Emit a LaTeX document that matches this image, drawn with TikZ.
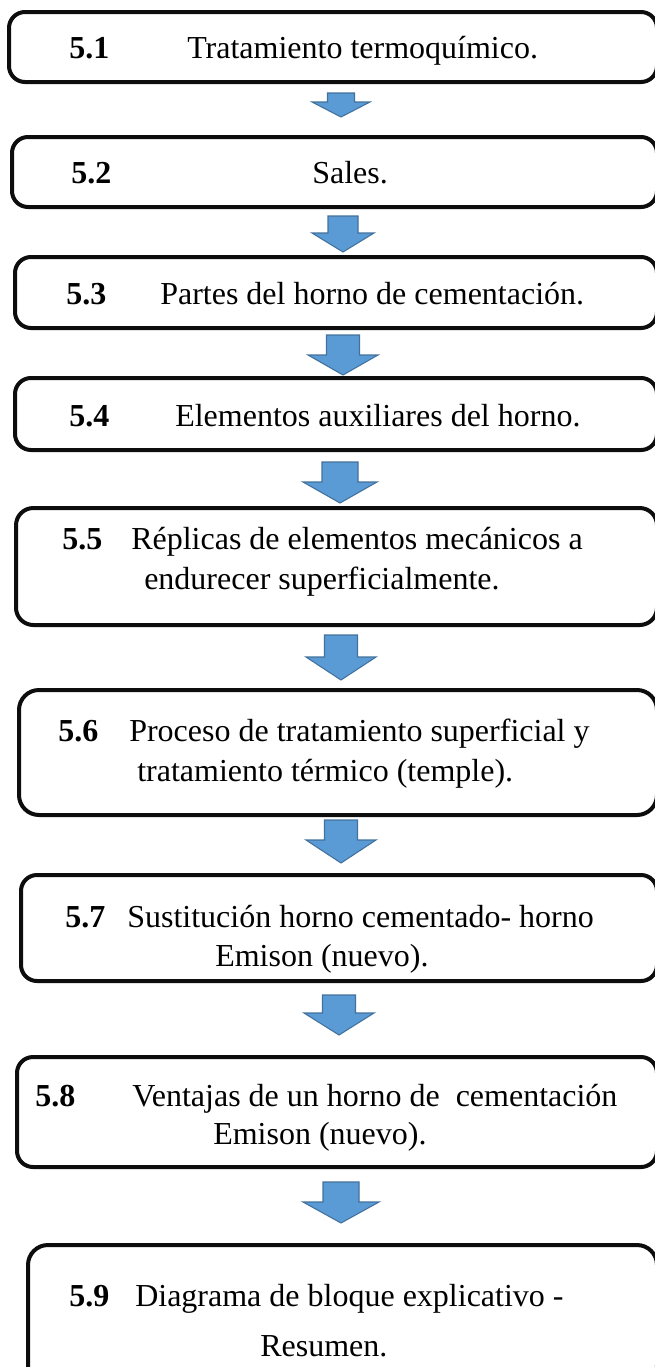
\documentclass[tikz,border=0pt]{standalone}
\usepackage{fontspec}
\setmainfont{Liberation Serif}
\usetikzlibrary{fit}
\definecolor{azul}{HTML}{5B9BD5}
\definecolor{azulborde}{HTML}{41719C}

\begin{document}
\begin{tikzpicture}[x=0.75pt, y=-0.75pt,
  caja/.style = {draw=black!95, line width=3pt, rounded corners=12pt, inner sep=0pt},
  num/.style = {anchor=base west, inner sep=0pt, font=\fontsize{24}{28}\selectfont\bfseries},
  txt/.style = {anchor=base west, inner sep=0pt, font=\fontsize{24}{28}\selectfont},
  flecha/.style = {fill=azul, draw=azulborde, line width=0.8pt, line join=miter}]
  \useasboundingbox (0,0) rectangle (654,1367);
  % cajas
  \node (b1) [caja, fit={(9,12) (657,82)}] {};
  \node (b2) [caja, fit={(12,137) (657,207)}] {};
  \node (b3) [caja, fit={(15,257) (657,328)}] {};
  \node (b4) [caja, fit={(15,378) (657,450)}] {};
  \node (b5) [caja, fit={(16,508) (657,625)}, rounded corners=13pt] {};
  \node (b6) [caja, fit={(19,690) (657,815)}, rounded corners=15pt] {};
  \node (b7) [caja, fit={(21,875) (657,981)}] {};
  \node (b8) [caja, fit={(17,1057) (657,1167)}] {};
  \node (b9) [caja, fit={(28,1245) (657,1385)}, rounded corners=15pt] {};
  % textos
  \node (n1) at (69,58) [num] {5.1};
  \node (t1) at (187,58) [txt] {Tratamiento termoquímico.};
  \node (n2) at (71,183) [num] {5.2};
  \node (t2) at (312,183) [txt] {Sales.};
  \node (n3) at (66,304) [num] {5.3};
  \node (t3) at (160,304) [txt] {Partes del horno de cementación.};
  \node (n4) at (69,426) [num] {5.4};
  \node (t4) at (175,426) [txt] {Elementos auxiliares del horno.};
  \node (n5) at (62,549) [num] {5.5};
  \node (t5a) at (131,549) [txt] {Réplicas de elementos mecánicos a};
  \node (t5b) at (144,589) [txt] {endurecer superficialmente.};
  \node (n6) at (58,741) [num] {5.6};
  \node (t6a) at (129,741) [txt] {Proceso de tratamiento superficial y};
  \node (t6b) at (137,781) [txt] {tratamiento térmico (temple).};
  \node (n7) at (65,927) [num] {5.7};
  \node (t7a) at (127,927) [txt] {Sustitución horno cementado- horno};
  \node (t7b) at (215,966) [txt] {Emison (nuevo).};
  \node (n8) at (35,1106) [num] {5.8};
  \node (t8a) at (132,1106) [txt] {Ventajas de un horno de~ cementación};
  \node (t8b) at (213,1144) [txt] {Emison (nuevo).};
  \node (n9) at (69,1306) [num] {5.9};
  \node (t9a) at (135,1306) [txt] {Diagrama de bloque explicativo -};
  \node (t9b) at (260,1356) [txt] {Resumen.};
  % flechas
  \foreach \x/\ya/\yb/\yc/\s/\h in {341/93/102/117/13.5/29, 343/216/233/252/15/31,
      343/335/355/375/16.5/35, 340/462/482/503/18/37, 341/635/657/680/16.5/35,
      341/820/840/863/16.5/35, 339/995/1013/1035/16.5/35, 341/1182/1202/1223/18/38}
    \draw[flecha] (\x-\s,\ya) -- (\x+\s,\ya) -- (\x+\s,\yb) -- (\x+\h,\yb) -- (\x,\yc)
      -- (\x-\h,\yb) -- (\x-\s,\yb) -- cycle;
\end{tikzpicture}
\end{document}
